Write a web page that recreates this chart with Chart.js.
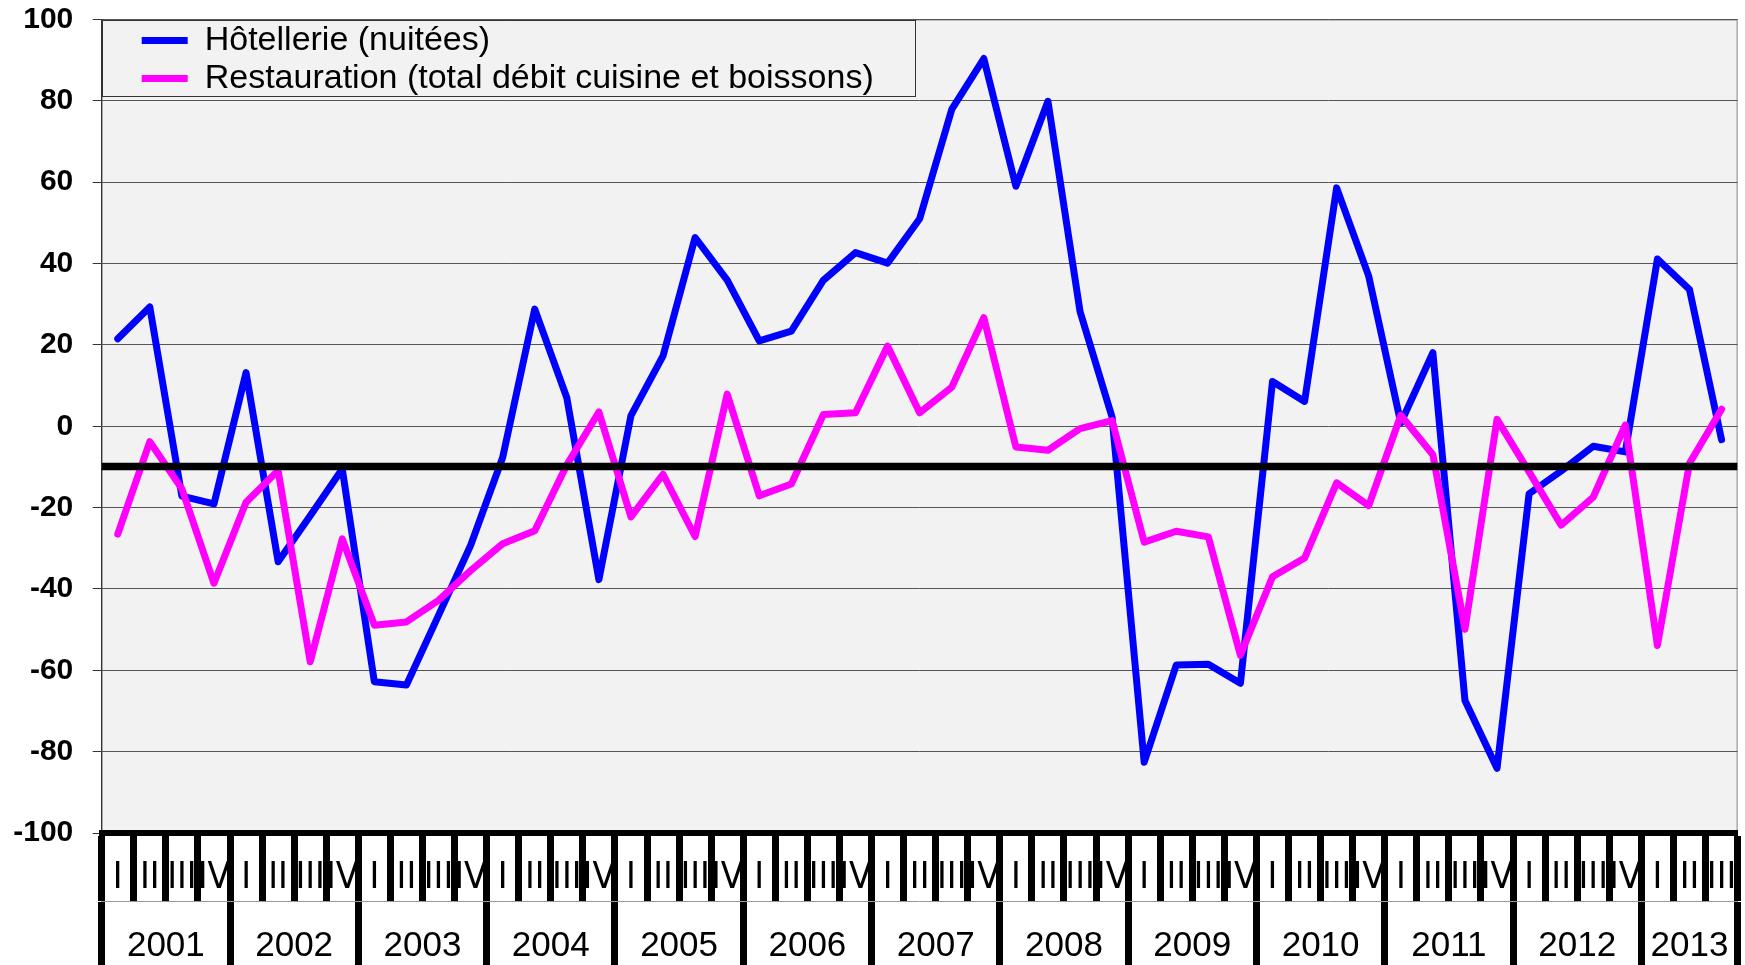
<!DOCTYPE html>
<html>
<head>
<meta charset="utf-8">
<script src="https://cdn.jsdelivr.net/npm/chart.js@4.4.1/dist/chart.umd.min.js"></script>
<style>
  html, body { margin: 0; padding: 0; background: #fff; }
  #wrap { width: 1745px; height: 965px; position: relative; }
</style>
</head>
<body>
<div id="wrap"><canvas id="chart"></canvas></div>
<script>
// quarters 2001 I .. 2013 III
const years = ["2001", "2002", "2003", "2004", "2005", "2006", "2007", "2008", "2009", "2010", "2011", "2012", "2013"];
const quarterNames = ["I", "II", "III", "IV"];
const quarterLabels = [];
years.forEach((y, i) => {
  const n = y === "2013" ? 3 : 4;
  for (let q = 0; q < n; q++) quarterLabels.push(quarterNames[q]);
});

const hotel = [
  21.5, 29.3, -17.2, -19.1, 13.2, -33.3, -22.0, -10.5,
  -62.8, -63.6, -46.5, -29.3, -7.7, 28.8, 7.0, -37.7,
  2.6, 17.3, 46.4, 35.9, 21.0, 23.4, 35.9, 42.7,
  40.1, 51.0, 77.9, 90.4, 59.0, 79.9, 28.2, 2.2,
  -82.6, -58.7, -58.5, -63.2, 11.0, 6.1, 58.6, 36.9,
  0.8, 18.1, -67.4, -84.1, -16.6, -11.0, -4.9, -6.3,
  41.1, 33.6, -3.3
];
const resto = [
  -26.5, -3.8, -15.4, -38.6, -18.7, -10.9, -57.9, -27.7,
  -48.9, -48.1, -42.8, -35.5, -28.9, -25.7, -9.5, 3.5,
  -22.3, -11.8, -27.1, 7.9, -17.1, -14.2, 2.9, 3.3,
  19.7, 3.3, 9.6, 26.7, -5.1, -5.9, -0.6, 1.4,
  -28.5, -25.8, -27.2, -56.3, -37.0, -32.4, -13.9, -19.5,
  2.7, -7.0, -49.9, 1.7, -11.2, -24.3, -17.4, 0.3,
  -53.9, -9.1, 4.2
];
const referenceLevel = -9.9;
const yTickValues = [-100, -80, -60, -40, -20, 0, 20, 40, 60, 80, 100];

// year boundaries and centres, in quarter units
const yearStart = [];
let pos = 0;
years.forEach(y => {
  yearStart.push(pos);
  pos += y === "2013" ? 3 : 4;
});
const yearTicks = [];
years.forEach((y, i) => {
  const end = i + 1 < years.length ? yearStart[i + 1] : quarterLabels.length;
  yearTicks.push({ value: yearStart[i], label: "" });
  yearTicks.push({ value: (yearStart[i] + end) / 2, label: y });
});
yearTicks.push({ value: quarterLabels.length, label: "" });
const isBoundary = v => !yearTicks.some(t => t.value === v && t.label !== "");

const frame = {
  id: "frame",
  afterLayout(chart) {
    const lg = chart.legend;
    lg.left = chart.chartArea.left + 36;
    lg.top = chart.chartArea.top;
    lg.bottom = chart.chartArea.bottom;
  },
  beforeDraw(chart) {
    const { ctx, chartArea: a, legend } = chart;
    ctx.save();
    ctx.fillStyle = "#f2f2f2";
    ctx.fillRect(a.left, a.top, a.right - a.left, a.bottom - a.top);
    ctx.strokeStyle = "#888";
    ctx.lineWidth = 1;
    ctx.strokeRect(a.left + 0.5, a.top + 0.5, a.right - a.left - 1, a.bottom - a.top);
    const right = legend.left + legend.width + 31;
    const bottom = legend.top + legend.columnSizes[0].height;
    ctx.strokeStyle = "#333";
    ctx.strokeRect(Math.round(a.left) + 0.5, Math.round(a.top) + 0.5,
      Math.round(right - a.left), Math.round(bottom - a.top));
    ctx.restore();
  }
};

new Chart(document.getElementById("chart"), {
  type: "line",
  data: {
    labels: quarterLabels,
    datasets: [
      {
        label: "Hôtellerie (nuitées)",
        data: hotel,
        borderColor: "#0000ff",
        pointBorderColor: "#0000ff",
        borderWidth: 7,
        pointBorderWidth: 7,
        pointRadius: 0,
        borderJoinStyle: "round",
        borderCapStyle: "round",
        order: 2
      },
      {
        label: "Restauration (total débit cuisine et boissons)",
        data: resto,
        borderColor: "#ff00ff",
        pointBorderColor: "#ff00ff",
        borderWidth: 7,
        pointBorderWidth: 7,
        pointRadius: 0,
        borderJoinStyle: "round",
        borderCapStyle: "round",
        order: 1
      },
      {
        label: "ref",
        data: [{ x: 0, y: referenceLevel }, { x: quarterLabels.length, y: referenceLevel }],
        xAxisID: "x2",
        borderColor: "#000",
        borderWidth: 7.5,
        pointRadius: 0,
        order: 0
      }
    ]
  },
  options: {
    responsive: true,
    maintainAspectRatio: false,
    animation: false,
    events: [],
    layout: { padding: { top: 19.5, right: 7.4, left: 0, bottom: 0 } },
    plugins: {
      tooltip: { enabled: false },
      legend: {
        position: "chartArea",
        align: "start",
        labels: {
          usePointStyle: true,
          pointStyle: "line",
          pointStyleWidth: 46,
          padding: 4,
          textAlign: "left",
          color: "#000",
          font: { family: "'Liberation Sans', Arial, sans-serif", size: 34 },
          filter: item => item.datasetIndex !== 2,
          sort: (a, b) => a.datasetIndex - b.datasetIndex
        }
      }
    },
    scales: {
      y: {
        min: -100,
        max: 100,
        afterBuildTicks: s => { s.ticks = yTickValues.map(v => ({ value: v })); },
        afterFit: s => {
          s.width = 101.7;
          s.paddingTop = 0;
          s.paddingBottom = 0;
        },
        grid: { color: "#555", lineWidth: 1, tickLength: 9, tickColor: "#333" },
        border: { color: "#333", width: 1 },
        ticks: {
          padding: 19.4,
          color: "#000",
          font: { family: "'Liberation Sans', Arial, sans-serif", size: 30, weight: "bold" }
        }
      },
      x: {
        type: "category",
        offset: true,
        weight: 0,
        afterFit: s => { s.height = 68; },
        grid: {
          display: true,
          offset: true,
          drawOnChartArea: false,
          drawTicks: true,
          tickLength: 68,
          tickWidth: 7,
          tickColor: "#000",
          z: 1
        },
        border: { display: true, color: "#000", width: 6, z: 1 },
        ticks: {
          autoSkip: false,
          maxRotation: 0,
          minRotation: 0,
          padding: -45,
          color: "#000",
          font: { family: "'Liberation Sans Narrow', 'DejaVu Sans Condensed', 'Liberation Sans', Arial, sans-serif", size: 37 }
        }
      },
      x2: {
        type: "linear",
        position: "bottom",
        weight: 1,
        min: 0,
        max: quarterLabels.length,
        afterBuildTicks: s => { s.ticks = yearTicks.map(t => ({ value: t.value })); },
        afterFit: s => { s.height = 64; },
        grid: {
          display: true,
          drawOnChartArea: false,
          drawTicks: true,
          tickLength: 64,
          tickWidth: ctx => (ctx.tick && isBoundary(ctx.tick.value) ? 7 : 0),
          tickColor: ctx => (ctx.tick && isBoundary(ctx.tick.value) ? "#000" : "rgba(0,0,0,0)")
        },
        border: { display: true, color: "#999", width: 1 },
        ticks: {
          autoSkip: false,
          maxRotation: 0,
          minRotation: 0,
          padding: -40,
          color: "#000",
          font: { family: "'Liberation Sans', Arial, sans-serif", size: 35 },
          callback: v => {
            const t = yearTicks.find(t => t.value === v);
            return t ? t.label : "";
          }
        }
      }
    }
  },
  plugins: [frame]
});
</script>
</body>
</html>
